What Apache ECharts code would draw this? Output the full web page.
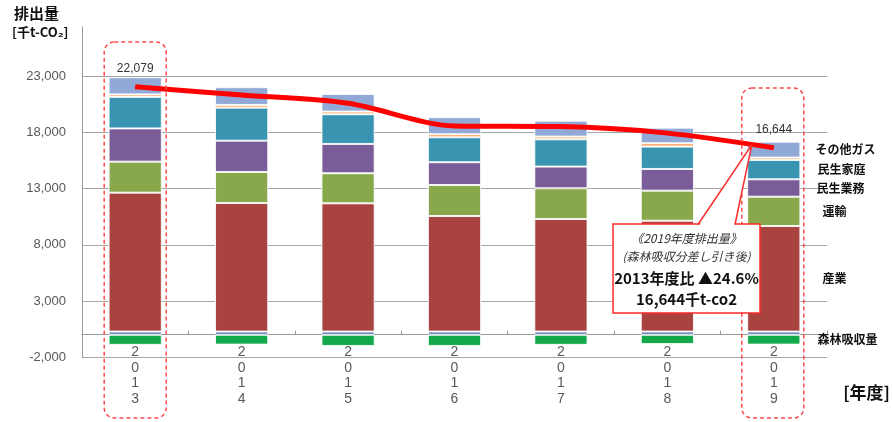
<!DOCTYPE html>
<html><head><meta charset="utf-8">
<script src="https://cdn.jsdelivr.net/npm/echarts@6/dist/echarts.min.js"></script>
<style>html,body{margin:0;padding:0;background:#fff}#c{width:892px;height:422px}</style>
</head><body><div id="c"></div>
<script>
const years = ['2013','2014','2015','2016','2017','2018','2019'];
const forest = [-900,-880,-1000,-1000,-900,-830,-880];
const waste = [280,280,280,280,280,280,280];
const industry = [12370,11450,11420,10290,10020,9870,9400];
const transport = [2760,2760,2680,2760,2740,2680,2610];
const commercial = [2960,2790,2610,2030,1930,1930,1550];
const residential = [2810,2940,2640,2220,2430,1990,1720];
const energyConv = [220,240,240,270,240,300,210];
const otherGas = [1530,1580,1570,1520,1420,1390,1420];
const netTotal = [22079,21350,20610,18590,18530,17950,16644];
const yTicks = [-2000,3000,8000,13000,18000,23000];

const JP = '"Noto Sans CJK JP", sans-serif';
const chart = echarts.init(document.getElementById('c'));
const last = years.length - 1;

function barSeries(name, data, color, labelDist) {
  return {
    name, type: 'bar', stack: 'total', data, barWidth: '50%',
    itemStyle: {color, borderColor: 'rgba(255,255,255,0.85)', borderWidth: 1},
    label: labelDist == null ? {show: false} : {
      show: true, position: 'right', distance: labelDist,
      formatter: p => p.dataIndex === last ? name : '',
      color: '#111', fontSize: 12, fontWeight: 'bold', fontFamily: JP
    },
    emphasis: {disabled: true}
  };
}

chart.setOption({
  animation: false,
  grid: {left: 82, right: 65, top: 27, bottom: 64.8, containLabel: false, outerBoundsMode: 'none'},
  xAxis: {
    type: 'category', data: years,
    axisLine: {onZero: true, lineStyle: {color: '#999', width: 1}},
    axisTick: {show: true, inside: true, length: 4, alignWithLabel: false, lineStyle: {color: '#999'}},
    axisLabel: {
      formatter: v => v.split('').join('\n'), color: '#595959', fontSize: 14,
      lineHeight: 15.6, margin: -12.6, fontFamily: 'Liberation Sans'
    }
  },
  yAxis: {
    type: 'value', min: -2000, max: 27400,
    axisLine: {show: true, lineStyle: {color: '#999'}},
    axisTick: {show: false, customValues: yTicks},
    axisLabel: {
      customValues: yTicks, formatter: v => Number(v).toLocaleString('en-US'),
      color: '#595959', fontSize: 13, margin: 16, fontFamily: 'Liberation Sans'
    },
    splitLine: {show: true, lineStyle: {color: '#A6A6A6', width: 1.2}}
  },
  series: [
    barSeries('廃棄物', waste, '#4F6FB0', null),
    barSeries('産業', industry, '#A8433F', 22),
    barSeries('運輸', transport, '#88A84B', 22),
    barSeries('民生業務', commercial, '#7A5C98', 16),
    barSeries('民生家庭', residential, '#3994B2', 17),
    barSeries('エネルギー転換', energyConv, '#F5A15A', null),
    barSeries('その他ガス', otherGas, '#91A9D6', 15),
    barSeries('森林吸収量', forest, '#13A84A', 17),
    {
      name: '排出量', type: 'line', data: netTotal, smooth: 0.3,
      showSymbol: true, symbol: 'circle', symbolSize: 1,
      itemStyle: {color: '#FF0000'},
      lineStyle: {color: '#FF0000', width: 5}, z: 5,
      label: {
        show: true, position: 'top', distance: 12,
        formatter: p => (p.dataIndex === 0 || p.dataIndex === last) ? p.value.toLocaleString('en-US') : '',
        fontSize: 12, color: '#333', fontFamily: 'Liberation Sans'
      },
      emphasis: {disabled: true}
    }
  ]
});

const p0 = chart.convertToPixel({gridIndex: 0}, [0, 0]);
const p6 = chart.convertToPixel({gridIndex: 0}, [last, 0]);
const pl6 = chart.convertToPixel({gridIndex: 0}, [last, netTotal[last]]);
const apex = [pl6[0] - 22, pl6[1] - 3];
const red = '#FF2A2A';
const dash = {fill: 'none', stroke: '#FF4A4A', lineWidth: 1.5, lineDash: [4, 3]};

chart.setOption({
  graphic: [
    {type: 'text', left: 14, top: 6, style: {text: '排出量', font: 'bold 15px ' + JP, fill: '#111'}},
    {type: 'text', left: 12, top: 26, style: {text: '[千t-CO₂]', font: 'bold 13px ' + JP, fill: '#111'}},
    {type: 'text', x: 890, y: 393, style: {text: '[年度]', font: 'bold 17px ' + JP, fill: '#111', align: 'right', verticalAlign: 'middle'}},
    {type: 'rect', z: 50, shape: {x: p0[0] - 31, y: 42, width: 62, height: 376, r: 10}, style: dash},
    {type: 'rect', z: 50, shape: {x: p6[0] - 32, y: 88, width: 62, height: 330, r: 10}, style: dash},
    {type: 'rect', z: 60, shape: {x: 613, y: 224, width: 147, height: 89}, style: {fill: '#fff', stroke: red, lineWidth: 1.5}},
    {type: 'polygon', z: 61, shape: {points: [[698.8, 226], [734.2, 226], apex]}, style: {fill: '#fff'}},
    {type: 'polyline', z: 62, shape: {points: [[698, 224.5], apex, [735, 224.5]]}, style: {stroke: red, lineWidth: 1.5, fill: 'none'}},
    {type: 'text', z: 63, x: 686.5, y: 238, style: {text: '《2019年度排出量》', font: 'italic 12px ' + JP, fill: '#333', align: 'center', verticalAlign: 'middle'}},
    {type: 'text', z: 63, x: 686.5, y: 256, style: {text: '(森林吸収分差し引き後)', font: 'italic 12px ' + JP, fill: '#333', align: 'center', verticalAlign: 'middle'}},
    {type: 'text', z: 63, x: 686.5, y: 278, style: {text: '2013年度比 ▲24.6%', font: 'bold 15px ' + JP, fill: '#111', align: 'center', verticalAlign: 'middle'}},
    {type: 'text', z: 63, x: 686.5, y: 299, style: {text: '16,644千t-co2', font: 'bold 15px ' + JP, fill: '#111', align: 'center', verticalAlign: 'middle'}}
  ]
});
</script>
</body></html>
